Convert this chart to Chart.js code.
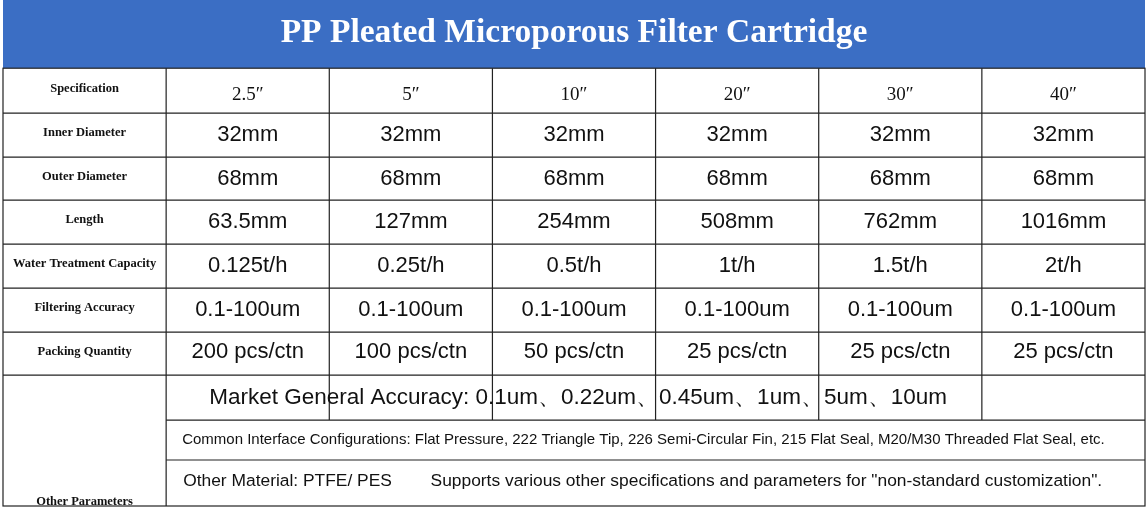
<!DOCTYPE html>
<html><head><meta charset="utf-8">
<script src="https://cdn.jsdelivr.net/npm/chart.js@4/dist/chart.umd.min.js"></script>
<style>html,body{margin:0;padding:0;background:#fff}#wrap{width:1148px;height:509px}</style>
</head><body><div id="wrap"><canvas id="c"></canvas></div>
<script>
const titleText = "PP Pleated Microporous Filter Cartridge";
const rowLabels = ["Specification","Inner Diameter","Outer Diameter","Length","Water Treatment Capacity","Filtering Accuracy","Packing Quantity"];
const specs = ["2.5″","5″","10″","20″","30″","40″"];
const innerDiameter = ["32mm","32mm","32mm","32mm","32mm","32mm"];
const outerDiameter = ["68mm","68mm","68mm","68mm","68mm","68mm"];
const lengths = ["63.5mm","127mm","254mm","508mm","762mm","1016mm"];
const capacity = ["0.125t/h","0.25t/h","0.5t/h","1t/h","1.5t/h","2t/h"];
const accuracy = ["0.1-100um","0.1-100um","0.1-100um","0.1-100um","0.1-100um","0.1-100um"];
const packing = ["200 pcs/ctn","100 pcs/ctn","50 pcs/ctn","25 pcs/ctn","25 pcs/ctn","25 pcs/ctn"];
const otherLabel = "Other Parameters";
const otherRows = [
  "Market General Accuracy: 0.1um、0.22um、0.45um、1um、5um、10um",
  "Common Interface Configurations: Flat Pressure, 222 Triangle Tip, 226 Semi-Circular Fin, 215 Flat Seal, M20/M30 Threaded Flat Seal, etc.",
  "Other Material: PTFE/ PES        Supports various other specifications and parameters for \"non-standard customization\"."
];

const rowEdges = [0,45,89,132,176,220,264,307,352,392,438];
const dataRows = [innerDiameter, outerDiameter, lengths, capacity, accuracy, packing];

const tablePlugin = {
  id: 'tbl',
  beforeDraw(chart) {
    const ctx = chart.ctx, t = chart.titleBlock;
    ctx.save();
    ctx.fillStyle = '#3b6ec4';
    ctx.fillRect(3, 0, chart.width - 6, t.bottom);
    ctx.restore();
  },
  afterDraw(chart) {
    const ctx = chart.ctx, xs = chart.scales.x, ys = chart.scales.y;
    const X = v => xs.getPixelForValue(v), Y = v => ys.getPixelForValue(v);
    ctx.save();
    ctx.strokeStyle = '#222'; ctx.lineWidth = 1.2;
    ctx.strokeRect(X(0), Y(0), X(7) - X(0), Y(438) - Y(0));
    rowEdges.slice(1, -1).forEach((e, i) => {
      const x0 = i >= 7 ? X(1) : X(0);
      ctx.beginPath(); ctx.moveTo(x0, Y(e)); ctx.lineTo(X(7), Y(e)); ctx.stroke();
    });
    for (let c = 1; c < 7; c++) {
      ctx.beginPath(); ctx.moveTo(X(c), Y(0)); ctx.lineTo(X(c), Y(c === 1 ? 438 : 352)); ctx.stroke();
    }
    ctx.fillStyle = '#111'; ctx.textBaseline = 'middle'; ctx.textAlign = 'center';
    const mid = r => Y((rowEdges[r] + rowEdges[r + 1]) / 2);
    ctx.font = 'bold 12.5px "Liberation Serif"';
    rowLabels.forEach((l, r) => ctx.fillText(l, X(0.5), mid(r) - 2));
    ctx.fillText(otherLabel, X(0.5), Y(372 + 62));
    ctx.font = '19px "Liberation Serif"';
    specs.forEach((s, i) => ctx.fillText(s, X(i + 1.5), mid(0) + 4));
    ctx.font = '22px "Liberation Sans"';
    dataRows.forEach((arr, r) => arr.forEach((v, i) => ctx.fillText(v, X(i + 1.5), mid(r + 1) + (r === 5 ? -2 : 0))));
    ctx.textAlign = 'left';
    ctx.font = '22.5px "Liberation Sans"';
    ctx.fillText(otherRows[0], X(1) + 43, mid(7));
    ctx.font = '15px "Liberation Sans"';
    ctx.fillText(otherRows[1], X(1) + 16, mid(8));
    ctx.font = '17.4px "Liberation Sans"';
    ctx.fillText(otherRows[2], X(1) + 17, mid(9) - 2);
    ctx.restore();
  }
};

new Chart(document.getElementById('c'), {
  type: 'scatter',
  data: { datasets: [{ data: [], pointRadius: 0 }] },
  options: {
    responsive: true, maintainAspectRatio: false, animation: false,
    layout: { padding: { left: 3, right: 3, bottom: 3, top: 0 } },
    plugins: {
      legend: { display: false }, tooltip: { enabled: false },
      title: { display: true, text: titleText, color: '#fff',
        font: { family: '"Liberation Serif"', size: 33.5, weight: 'bold', lineHeight: 1.2 },
        padding: { top: 13, bottom: 15 } }
    },
    scales: {
      x: { type: 'linear', min: 0, max: 7, display: false },
      y: { type: 'linear', min: 0, max: 438, reverse: true, display: false }
    }
  },
  plugins: [tablePlugin]
});
</script></body></html>
